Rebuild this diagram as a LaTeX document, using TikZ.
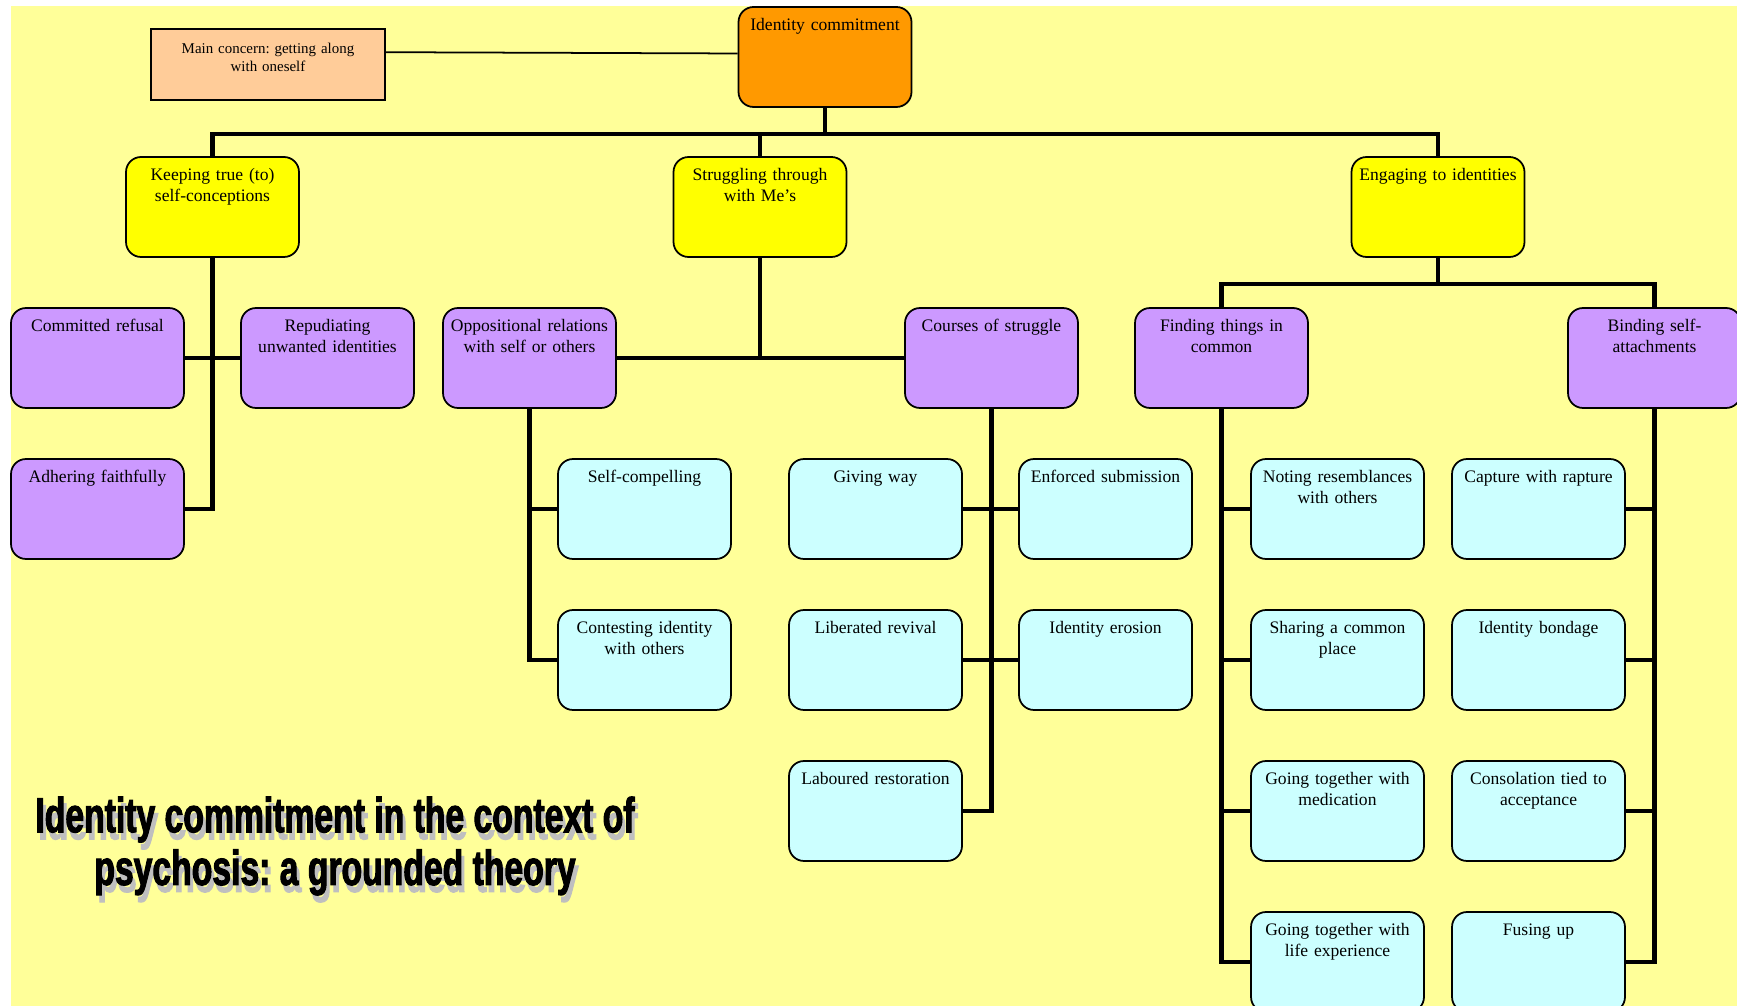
\documentclass[tikz,border=0pt]{standalone}
\usepackage{fontspec}
\setmainfont{Liberation Serif}
\newfontfamily\titlefont[FakeStretch=0.685,FakeBold=2]{Liberation Sans Bold}
\frenchspacing
\definecolor{bgyellow}{HTML}{FFFF99}
\definecolor{coreorange}{HTML}{FF9900}
\definecolor{mainyellow}{HTML}{FFFF00}
\definecolor{subpurple}{HTML}{CC99FF}
\definecolor{propcyan}{HTML}{CCFFFF}
\definecolor{concernpeach}{HTML}{FFCC99}

\begin{document}
\begin{tikzpicture}[x=0.02cm,y=-0.02cm,
  catbox/.style={draw,line width=1pt,rounded corners=0.3cm,minimum width=3.46cm,minimum height=2cm,
    text width=92pt,align=center,inner xsep=3pt,inner ysep=4pt,text height=7.5pt,text depth=38pt,
    font=\fontsize{10}{12}\selectfont},
  corebox/.style={catbox,fill=coreorange},
  mainbox/.style={catbox,fill=mainyellow},
  subbox/.style={catbox,fill=subpurple},
  propbox/.style={catbox,fill=propcyan},
  linkbus/.style={line width=2.8pt},
  titletext/.style={align=center,font=\titlefont\fontsize{28}{30}\selectfont}]

  \useasboundingbox (0,0) rectangle (1737,1006);
  \fill[bgyellow] (11,6) rectangle (1737,1006);

  % core category and main concern
  \node[corebox] (ident) at (825,57) {Identity commitment};
  \node[draw,fill=concernpeach,line width=1pt,minimum width=4.68cm,minimum height=1.42cm,
    text width=125pt,align=center,text height=7pt,text depth=19pt,
    font=\fontsize{8.5}{10.2}\selectfont] (concern) at (268,64.5)
    {Main concern: getting along\\with oneself};

  % categories
  \node[mainbox] (keep) at (212.5,207) {Keeping true (to)\\self-conceptions};
  \node[mainbox] (strug) at (760,207) {Struggling through\\with Me’s};
  \node[mainbox] (engage) at (1438,207) {Engaging to identities};

  % sub-categories
  \node[subbox] (refusal) at (97.5,358) {Committed refusal};
  \node[subbox] (repud) at (327.5,358) {Repudiating\\unwanted identities};
  \node[subbox] (adher) at (97.5,509) {Adhering faithfully};
  \node[subbox] (oppos) at (529.5,358) {Oppositional relations\\with self or others};
  \node[subbox] (courses) at (991.5,358) {Courses of struggle};
  \node[subbox] (finding) at (1221.5,358) {Finding things in\\common};
  \node[subbox] (binding) at (1654.5,358) {Binding self-\\attachments};

  % properties
  \node[propbox] (selfcomp) at (644.5,509) {Self-compelling};
  \node[propbox] (contest) at (644.5,660) {Contesting identity\\with others};
  \node[propbox] (giving) at (875.5,509) {Giving way};
  \node[propbox] (liberated) at (875.5,660) {Liberated revival};
  \node[propbox] (laboured) at (875.5,811) {Laboured restoration};
  \node[propbox] (enforced) at (1105.5,509) {Enforced submission};
  \node[propbox] (erosion) at (1105.5,660) {Identity erosion};
  \node[propbox] (noting) at (1337.5,509) {Noting resemblances\\with others};
  \node[propbox] (sharing) at (1337.5,660) {Sharing a common\\place};
  \node[propbox] (gomed) at (1337.5,811) {Going together with\\medication};
  \node[propbox] (golife) at (1337.5,962) {Going together with\\life experience};
  \node[propbox] (capture) at (1538.5,509) {Capture with rapture};
  \node[propbox] (bondage) at (1538.5,660) {Identity bondage};
  \node[propbox] (consol) at (1538.5,811) {Consolation tied to\\acceptance};
  \node[propbox] (fusing) at (1538.5,962) {Fusing up};

  % title
  \node[titletext,text=gray!50] (titleshadow) at (338,853) {Identity commitment in the context of\\psychosis: a grounded theory};
  \node[titletext] (title) at (335,846) {Identity commitment in the context of\\psychosis: a grounded theory};

  % connectors
  \draw[line width=1pt] ([yshift=7pt]concern.east) -- ([yshift=2pt]ident.west);
  \coordinate (topbus) at (825,134);
  \draw[linkbus] (ident.south) -- (topbus);
  \draw[linkbus] (keep.north) |- (topbus) -| (engage.north);
  \draw[linkbus] (strug.north) -- (strug.north |- topbus);

  \draw[linkbus] (keep.south) |- (adher.east);
  \draw[linkbus] (refusal.east) -- (repud.west);

  \draw[linkbus] (strug.south) -- (strug.south |- oppos.east);
  \draw[linkbus] (oppos.east) -- (courses.west);

  \coordinate (engbus) at (1438,284);
  \draw[linkbus] (engage.south) -- (engbus);
  \draw[linkbus] (finding.north) |- (engbus) -| (binding.north);

  \draw[linkbus] (oppos.south) |- (contest.west);
  \draw[linkbus] (oppos.south |- selfcomp.west) -- (selfcomp.west);

  \draw[linkbus] (courses.south) |- (laboured.east);
  \draw[linkbus] (giving.east) -- (enforced.west);
  \draw[linkbus] (liberated.east) -- (erosion.west);

  \draw[linkbus] (finding.south) |- (golife.west);
  \foreach \n in {noting,sharing,gomed}
    \draw[linkbus] (finding.south |- \n.west) -- (\n.west);

  \draw[linkbus] (binding.south) |- (fusing.east);
  \foreach \n in {capture,bondage,consol}
    \draw[linkbus] (binding.south |- \n.east) -- (\n.east);
\end{tikzpicture}
\end{document}
